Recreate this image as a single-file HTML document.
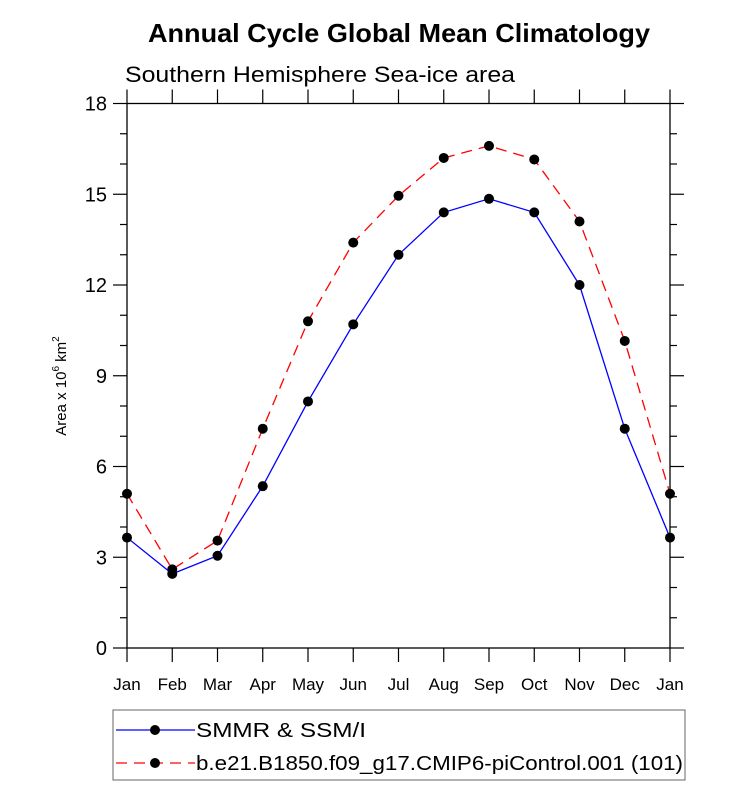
<!DOCTYPE html>
<html><head><meta charset="utf-8"><style>
body{margin:0;background:#fff;}
svg text{font-family:"Liberation Sans",Arial,sans-serif;fill:#000;}
</style></head><body>
<svg id="chart" width="732" height="789">
<text x="148" y="42" font-size="26" font-weight="bold" textLength="502" lengthAdjust="spacingAndGlyphs">Annual Cycle Global Mean Climatology</text>
<text x="125" y="82" font-size="22" textLength="390" lengthAdjust="spacingAndGlyphs">Southern Hemisphere Sea-ice area</text>
<text transform="translate(66,386) rotate(-90)" font-size="15" text-anchor="middle">Area x 10<tspan font-size="10" dy="-7">6</tspan><tspan dy="7"> km</tspan><tspan font-size="10" dy="-7">2</tspan></text>
<g id="axes"></g>
<g id="series"></g>
<g>
<rect x="113" y="710" width="572" height="70" fill="none" stroke="#666" stroke-width="1"/>
<g>
<line x1="116" y1="730" x2="195" y2="730" stroke="#0000ff" stroke-width="1.3"/>
<circle cx="155" cy="730" r="5" fill="#000"/>
<text x="196" y="737" font-size="20" textLength="170" lengthAdjust="spacingAndGlyphs">SMMR &amp; SSM/I</text></g>
<g>
<line x1="116" y1="763" x2="195" y2="763" stroke="#ff0000" stroke-width="1.3" stroke-dasharray="11,7"/>
<circle cx="155" cy="763" r="5" fill="#000"/>
<text x="196" y="770" font-size="20" textLength="487" lengthAdjust="spacingAndGlyphs">b.e21.B1850.f09_g17.CMIP6-piControl.001 (101)</text></g>
</g>
</svg>
<script>
const months=["Jan","Feb","Mar","Apr","May","Jun","Jul","Aug","Sep","Oct","Nov","Dec","Jan"];
const obsValues=[3.65,2.45,3.05,5.35,8.15,10.7,13.0,14.4,14.85,14.4,12.0,7.25,3.65];
const modelValues=[5.1,2.6,3.55,7.25,10.8,13.4,14.95,16.2,16.6,16.15,14.1,10.15,5.1];
const yTicks=[0,3,6,9,12,15,18];
const NS="http://www.w3.org/2000/svg";
const L=127,R=670,T=103.5,B=648,YMAX=18;
const xs=i=>L+(R-L)*i/(months.length-1);
const ys=v=>B-(B-T)*v/YMAX;
function mk(tag,attrs,parent){const e=document.createElementNS(NS,tag);for(const k in attrs)e.setAttribute(k,attrs[k]);parent.appendChild(e);return e;}
const ax=document.getElementById('axes');
const frame=mk('rect',{x:L,y:T,width:R-L,height:B-T,fill:'none',stroke:'#000','stroke-width':1.3},ax);


for(let v=0;v<=YMAX;v++){
  const major=v%3===0, len=major?14:7, y=ys(v);
  mk('line',{x1:L-len,y1:y,x2:L,y2:y,stroke:'#000','stroke-width':1.2},ax);
  mk('line',{x1:R,y1:y,x2:R+len,y2:y,stroke:'#000','stroke-width':1.2},ax);
}
yTicks.forEach(v=>{
  const t=mk('text',{x:L-20,y:ys(v)+7,'font-size':20,'text-anchor':'end'},ax);
  t.textContent=v;
  
  
});
months.forEach((m,i)=>{
  const x=xs(i);
  mk('line',{x1:x,y1:B,x2:x,y2:B+14,stroke:'#000','stroke-width':1.2},ax);
  mk('line',{x1:x,y1:T-14,x2:x,y2:T,stroke:'#000','stroke-width':1.2},ax);
  const t=mk('text',{x:x,y:B+42,'font-size':17,'text-anchor':'middle'},ax);
  t.textContent=m;
  
  
});
const sg=document.getElementById('series');
function draw(vals,color,dash,name){
  const pts=vals.map((v,i)=>xs(i)+','+ys(v)).join(' ');
  const pl=mk('polyline',{points:pts,fill:'none',stroke:color,'stroke-width':1.3,'stroke-dasharray':dash},sg);
  
  
  vals.forEach((v,i)=>{
    const c=mk('circle',{cx:xs(i),cy:ys(v),r:5,fill:'#000'},sg);
    
    
  });
}
draw(modelValues,'#ff0000','11,7','model');
draw(obsValues,'#0000ff','none','obs');
</script>
</body></html>
